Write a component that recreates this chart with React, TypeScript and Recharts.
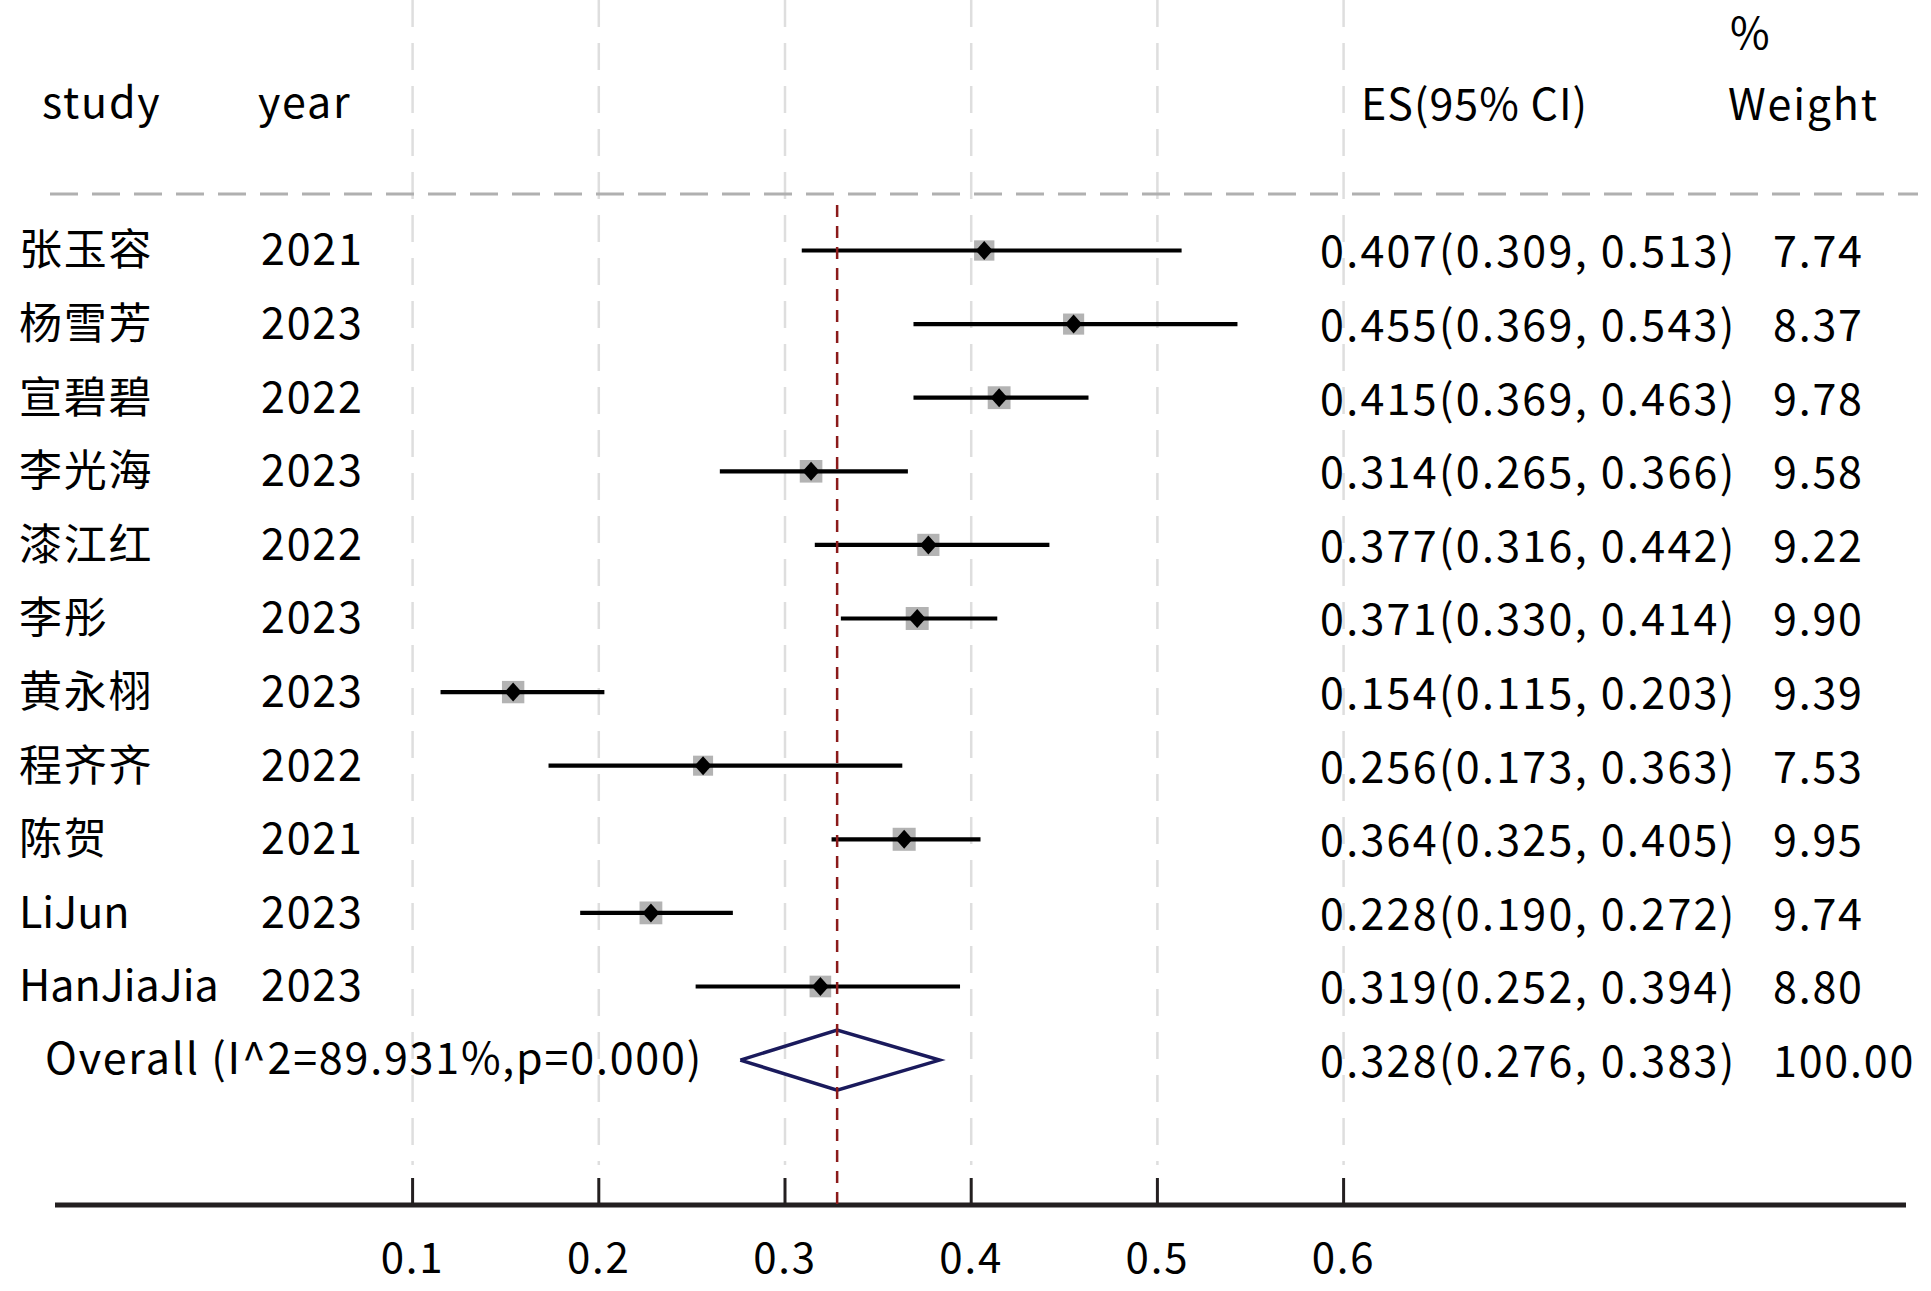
import React from 'react';
import { ComposedChart, Scatter, XAxis, YAxis } from 'recharts';

const studies = ['张玉容', '杨雪芳', '宣碧碧', '李光海', '漆江红', '李彤', '黄永栩', '程齐齐', '陈贺', 'LiJun', 'HanJiaJia'];
const years = [2021, 2023, 2022, 2023, 2022, 2023, 2023, 2022, 2021, 2023, 2023];
const es = [0.407, 0.455, 0.415, 0.314, 0.377, 0.371, 0.154, 0.256, 0.364, 0.228, 0.319];
const lower = [0.309, 0.369, 0.369, 0.265, 0.316, 0.33, 0.115, 0.173, 0.325, 0.19, 0.252];
const upper = [0.513, 0.543, 0.463, 0.366, 0.442, 0.414, 0.203, 0.363, 0.405, 0.272, 0.394];
const weights = [7.74, 8.37, 9.78, 9.58, 9.22, 9.9, 9.39, 7.53, 9.95, 9.74, 8.8];
const overall = { es: 0.328, lower: 0.276, upper: 0.383, weight: 100.0, label: 'Overall (I^2=89.931%,p=0.000)' };
const xTicks = [0.1, 0.2, 0.3, 0.4, 0.5, 0.6];

const W = 1931;
const H = 1291;
const FONT = '"Noto Sans CJK SC", "Noto Sans", sans-serif';
const FS = 43;
const LS = 1.8;
const LS_NUM = 2.3;

const Y_TOP = -2.4035;
const Y_BOTTOM = 13.969;
const GRID_END = 13.425;

const rows = studies.map((s, i) => ({
  x: es[i],
  y: i + 1,
  name: s,
  year: years[i],
  lo: lower[i],
  hi: upper[i],
  w: weights[i],
}));
const overallRow = studies.length + 1;
const overallData = [{ x: overall.es, y: overallRow }];
const diamondH = 0.4076;
const diamondPts = [
  { x: overall.lower, y: overallRow },
  { x: overall.es, y: overallRow - diamondH },
  { x: overall.upper, y: overallRow },
  { x: overall.es, y: overallRow + diamondH },
  { x: overall.lower, y: overallRow },
];
const refLine = [
  { x: overall.es, y: 0.382 },
  { x: overall.es, y: Y_BOTTOM },
];
const headerData = [{ x: 0.3, y: -1 }];

const fmt3 = (v: number) => v.toFixed(3);
const isLatin = (s: string) => /^[A-Za-z]+$/.test(s);

const Empty = () => <g />;

const BoxShape = (p: any) => {
  const s = 7.3 * Math.sqrt(p.payload.w);
  return <rect x={p.cx - s / 2} y={p.cy - s / 2} width={s} height={s} fill="#b3b3b3" />;
};

const DiamondShape = (p: any) => {
  const { cx, cy } = p;
  return <path d={`M${cx - 8.5},${cy} L${cx},${cy - 9.5} L${cx + 8.5},${cy} L${cx},${cy + 9.5} Z`} fill="#000" />;
};

const RowText = (p: any) => {
  const { cy, payload } = p;
  return (
    <g fontFamily={FONT} fontSize={FS} fill="#000">
      <text x={19} y={cy + 15} letterSpacing={isLatin(payload.name) ? 0 : LS}>{payload.name}</text>
      <text x={261} y={cy + 15} letterSpacing={LS}>{payload.year}</text>
      <text x={1320} y={cy + 17} letterSpacing={LS_NUM}>{`${fmt3(payload.x)}(${fmt3(payload.lo)}, ${fmt3(payload.hi)})`}</text>
      <text x={1773} y={cy + 17} letterSpacing={LS}>{payload.w.toFixed(2)}</text>
    </g>
  );
};

const OverallText = (p: any) => {
  const { cy } = p;
  return (
    <g fontFamily={FONT} fontSize={FS} fill="#000">
      <text x={45} y={cy + 14} letterSpacing={LS}>{overall.label}</text>
      <text x={1320} y={cy + 17} letterSpacing={LS_NUM}>{`${fmt3(overall.es)}(${fmt3(overall.lower)}, ${fmt3(overall.upper)})`}</text>
      <text x={1773} y={cy + 17} letterSpacing={LS}>{overall.weight.toFixed(2)}</text>
    </g>
  );
};

const HeaderText = (p: any) => {
  const { cy } = p;
  return (
    <g fontFamily={FONT} fontSize={FS} fill="#000">
      <line x1={50} x2={1918} y1={194} y2={194} stroke="#b0b0b0" strokeWidth={3} strokeDasharray="28 14" />
      <text x={42} y={cy + 15} letterSpacing={LS}>study</text>
      <text x={258} y={cy + 15} letterSpacing={LS}>year</text>
      <text x={1361} y={cy + 17} letterSpacing={1}>ES(95% CI)</text>
      <text x={1730} y={cy - 54} letterSpacing={LS}>%</text>
      <text x={1728} y={cy + 17} letterSpacing={LS}>Weight</text>
    </g>
  );
};

const Tick = (p: any) => {
  const { x, y, payload } = p;
  return (
    <g>
      <line x1={x} x2={x} y1={y - 27} y2={y} stroke="#231f20" strokeWidth={3} />
      <text x={x} y={y + 68} textAnchor="middle" fontFamily={FONT} fontSize={42} fill="#000" letterSpacing={LS}>
        {payload.value.toFixed(1)}
      </text>
    </g>
  );
};

export default function App() {
  return (
    <div style={{ width: W, height: H, background: '#fff' }}>
      <style>{'body{margin:0;background:#fff}'}</style>
      <ComposedChart width={W} height={H} margin={{ top: 0, right: 25, bottom: 0, left: 55 }}>
        <XAxis
          type="number"
          dataKey="x"
          domain={[-0.09205, 0.90204]}
          ticks={xTicks}
          height={86}
          tickSize={0}
          tickMargin={0}
          tickLine={false}
          axisLine={{ stroke: '#231f20', strokeWidth: 5 }}
          tick={<Tick />}
          interval={0}
        />
        <YAxis type="number" dataKey="y" domain={[Y_TOP, Y_BOTTOM]} reversed hide width={0} />
        {xTicks.map((t) => (
          <Scatter
            key={`grid-${t}`}
            data={[
              { x: t, y: Y_TOP },
              { x: t, y: GRID_END },
            ]}
            line={{ stroke: '#dedede', strokeWidth: 2.5, strokeDasharray: '27 16' }}
            lineType="joint"
            shape={<Empty />}
            isAnimationActive={false}
            legendType="none"
          />
        ))}
        <Scatter data={headerData} shape={<HeaderText />} isAnimationActive={false} legendType="none" />
        <Scatter data={rows} shape={<BoxShape />} isAnimationActive={false} legendType="none" />
        {rows.map((r, i) => (
          <Scatter
            key={`ci-${i}`}
            data={[
              { x: r.lo, y: r.y },
              { x: r.hi, y: r.y },
            ]}
            line={{ stroke: '#000', strokeWidth: 4.2 }}
            lineType="joint"
            shape={<Empty />}
            isAnimationActive={false}
            legendType="none"
          />
        ))}
        <Scatter
          data={diamondPts}
          line={{ stroke: '#1a1a5c', strokeWidth: 3.5, fill: 'none' }}
          lineType="joint"
          shape={<Empty />}
          isAnimationActive={false}
          legendType="none"
        />
        <Scatter
          data={refLine}
          line={{ stroke: '#8b1a1a', strokeWidth: 2.5, strokeDasharray: '12 9' }}
          lineType="joint"
          shape={<Empty />}
          isAnimationActive={false}
          legendType="none"
        />
        <Scatter data={rows} shape={<DiamondShape />} isAnimationActive={false} legendType="none" />
        <Scatter data={rows} shape={<RowText />} isAnimationActive={false} legendType="none" />
        <Scatter data={overallData} shape={<OverallText />} isAnimationActive={false} legendType="none" />
      </ComposedChart>
    </div>
  );
}
